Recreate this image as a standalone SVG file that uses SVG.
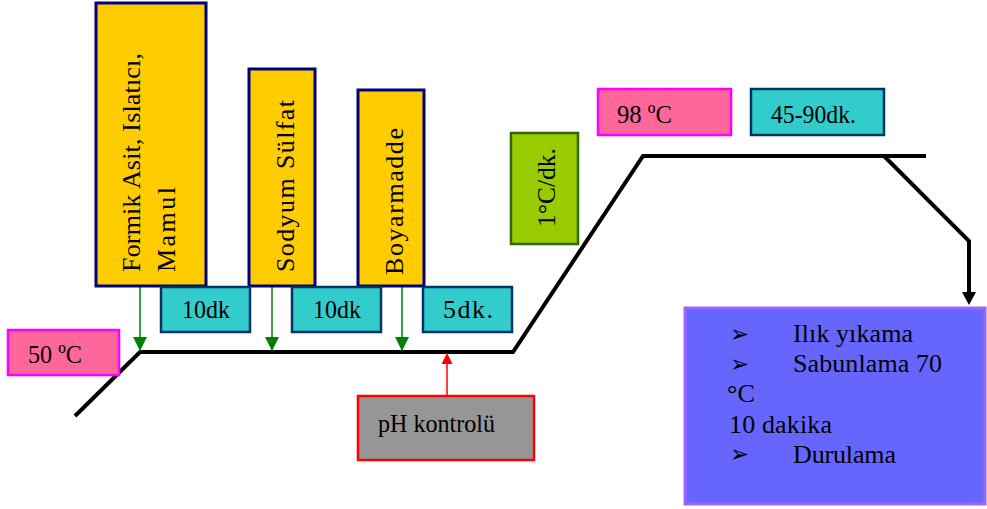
<svg xmlns="http://www.w3.org/2000/svg" width="987" height="509" viewBox="0 0 987 509">
  <style>
    .t { font-family: "Liberation Serif", "Times New Roman", serif; font-size: 26px; fill: #000; }
    .chem rect { fill: #FFCC00; stroke: #000080; stroke-width: 3; }
    .time rect { fill: #33CCCC; stroke: #003366; stroke-width: 2.5; }
    .temp rect { fill: #FF6699; stroke: #FF00FF; stroke-width: 2.5; }
    .rate rect { fill: #99CC00; stroke: #336600; stroke-width: 2.5; }
    .ph rect { fill: #969696; stroke: #FF0000; stroke-width: 2.5; }
    .final rect { fill: #6666FF; stroke: #9966FF; stroke-width: 3; }
    .bul { font-family: "DejaVu Sans", sans-serif; font-size: 24px; font-weight: bold; fill: #000; }
    .profile { fill: none; stroke: #000; stroke-width: 4; stroke-linejoin: miter; }
    .add { stroke: #008000; stroke-width: 1.5; fill: none; }
    .chk { stroke: #FF0000; stroke-width: 1.5; fill: none; }
  </style>
  <defs>
    <marker id="mGreen" viewBox="0 0 10 10" refX="10" refY="5" markerWidth="14" markerHeight="14" markerUnits="userSpaceOnUse" orient="auto">
      <path d="M0,0 L10,5 L0,10 Z" fill="#008000"/>
    </marker>
    <marker id="mRed" viewBox="0 0 10 10" refX="10" refY="5" markerWidth="13" markerHeight="11" markerUnits="userSpaceOnUse" orient="auto">
      <path d="M0,0 L10,5 L0,10 Z" fill="#FF0000"/>
    </marker>
  </defs>

  <!-- temperature profile and connectors -->
  <g id="connectors">
    <polyline class="profile" points="75,416 140,352 513,352 643,156 926,156"/>
    <polyline class="profile" points="884,156 969,241 969,293"/>
    <path d="M962,292 L976,292 L969,305 Z" fill="#000"/>
    <line class="add" x1="140" y1="287" x2="140" y2="351" marker-end="url(#mGreen)"/>
    <line class="add" x1="272" y1="287" x2="272" y2="351" marker-end="url(#mGreen)"/>
    <line class="add" x1="402" y1="287" x2="402" y2="351" marker-end="url(#mGreen)"/>
    <line class="chk" x1="447" y1="395" x2="447" y2="353" marker-end="url(#mRed)"/>
  </g>

  <g id="formik" class="chem">
    <rect x="96" y="3" width="110" height="283"/>
    <text class="t" transform="translate(140,272) rotate(-90)" textLength="219" lengthAdjust="spacing">Formik Asit, Islatıcı,</text>
    <text class="t" transform="translate(175,272) rotate(-90)" textLength="85" lengthAdjust="spacing">Mamul</text>
  </g>
  <g id="sodyum" class="chem">
    <rect x="249" y="69" width="66" height="217"/>
    <text class="t" transform="translate(294,272) rotate(-90)" textLength="172" lengthAdjust="spacing">Sodyum Sülfat</text>
  </g>
  <g id="boya" class="chem">
    <rect x="358" y="90" width="66" height="196"/>
    <text class="t" transform="translate(403,275) rotate(-90)" textLength="147" lengthAdjust="spacing">Boyarmadde</text>
  </g>

  <g id="t1" class="time">
    <rect x="161" y="287" width="89" height="45"/>
    <text class="t" x="182" y="318" textLength="48" lengthAdjust="spacingAndGlyphs">10dk</text>
  </g>
  <g id="t2" class="time">
    <rect x="292" y="287" width="89" height="45"/>
    <text class="t" x="313" y="318" textLength="48" lengthAdjust="spacingAndGlyphs">10dk</text>
  </g>
  <g id="t3" class="time">
    <rect x="423" y="287" width="89" height="45"/>
    <text class="t" x="443" y="318" textLength="50" lengthAdjust="spacing">5dk.</text>
  </g>

  <g id="temp50" class="temp">
    <rect x="8" y="330" width="111" height="45"/>
    <text class="t" x="28" y="363" textLength="54" lengthAdjust="spacingAndGlyphs">50 ºC</text>
  </g>

  <g id="ph" class="ph">
    <rect x="358" y="396" width="176" height="64"/>
    <text class="t" x="378" y="432" textLength="117" lengthAdjust="spacingAndGlyphs">pH kontrolü</text>
  </g>

  <g id="rate" class="rate">
    <rect x="511" y="133" width="67" height="111"/>
    <text class="t" transform="translate(555,227) rotate(-90)" textLength="79" lengthAdjust="spacingAndGlyphs">1°C/dk.</text>
  </g>

  <g id="temp98" class="temp">
    <rect x="598" y="89" width="133" height="46"/>
    <text class="t" x="617" y="123" textLength="55" lengthAdjust="spacingAndGlyphs">98 ºC</text>
  </g>

  <g id="t4" class="time">
    <rect x="751" y="89" width="133" height="46"/>
    <text class="t" x="771" y="123" textLength="85" lengthAdjust="spacingAndGlyphs">45-90dk.</text>
  </g>

  <g id="final" class="final">
    <rect x="685" y="308" width="300" height="196"/>
    <text class="bul" x="730" y="342" textLength="19" lengthAdjust="spacingAndGlyphs">➢</text>
    <text class="t" x="793" y="342" textLength="120" lengthAdjust="spacing">Ilık yıkama</text>
    <text class="bul" x="730" y="372" textLength="19" lengthAdjust="spacingAndGlyphs">➢</text>
    <text class="t" x="793" y="372" textLength="149" lengthAdjust="spacing">Sabunlama 70</text>
    <text class="t" x="727" y="402">°C</text>
    <text class="t" x="729" y="433" textLength="103" lengthAdjust="spacing">10 dakika</text>
    <text class="bul" x="730" y="462" textLength="19" lengthAdjust="spacingAndGlyphs">➢</text>
    <text class="t" x="793" y="463" textLength="103" lengthAdjust="spacing">Durulama</text>
  </g>
</svg>
